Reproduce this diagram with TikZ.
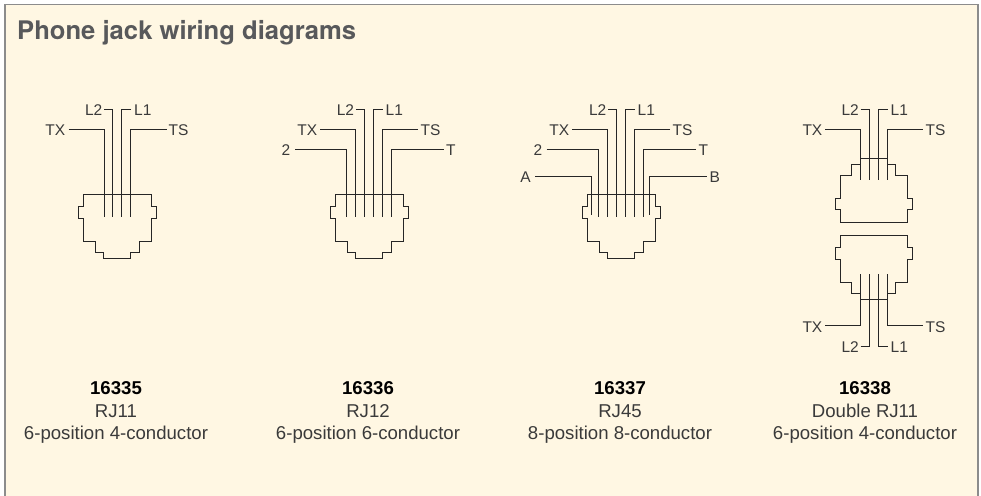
\documentclass[tikz,border=0pt]{standalone}
\usepackage{fontspec}
\setmainfont{Liberation Sans}
\newfontfamily\herosfont{TeX Gyre Heros}
\definecolor{panelbg}{HTML}{FFF7E3}
\definecolor{panelframe}{HTML}{8C8C8C}
\definecolor{titlegrey}{HTML}{58595B}
\definecolor{labelgrey}{HTML}{3A3A3A}
\tikzset{
  wire/.style={draw=black!85,line width=0.8pt,line join=miter},
  jackbody/.style={draw=black!85,line width=0.8pt,line join=miter},
  pin/.style={font=\fontsize{15.5}{18}\selectfont,text=labelgrey,inner sep=0pt},
  caption/.style={font=\fontsize{18.6}{22.5}\selectfont,text=labelgrey,align=center,inner sep=0pt,anchor=north},
}
% #1 centre x, #2 top y
\newcommand{\jackdown}[2]{%
  \draw[jackbody,shift={(#1,#2)}] (-33.7,0) -- (33.7,0) -- (33.7,12.7) -- (38.7,12.7) -- (38.7,24.3) -- (33.7,24.3) -- (33.7,47.3) -- (22,47.3) -- (22,58.3) -- (13.5,58.3) -- (13.5,64.3) -- (-13.5,64.3) -- (-13.5,58.3) -- (-22,58.3) -- (-22,47.3) -- (-33.7,47.3) -- (-33.7,24.3) -- (-38.7,24.3) -- (-38.7,12.7) -- (-33.7,12.7) -- cycle;}
% #1 centre x, #2 narrow-end y, #3 direction (1 = widens downward, -1 = widens upward)
\newcommand{\jackdouble}[3]{%
  \draw[jackbody,shift={(#1,#2)},yscale=#3] (-13.5,0) -- (13.5,0) -- (13.5,6) -- (22,6) -- (22,17) -- (33.7,17) -- (33.7,40) -- (38.7,40) -- (38.7,51.4) -- (33.7,51.4) -- (33.7,64) -- (-33.7,64) -- (-33.7,51.4) -- (-38.7,51.4) -- (-38.7,40) -- (-33.7,40) -- (-33.7,17) -- (-22,17) -- (-22,6) -- (-13.5,6) -- cycle;}
\begin{document}
\begin{tikzpicture}[x=1pt,y=-1pt]
\useasboundingbox (0,0) rectangle (981,495);
\path[fill=panelbg,draw=panelframe,line width=1.6pt] (5,4.6) rectangle (977.8,498);
\node[anchor=base west,inner sep=0pt,text=titlegrey,font=\herosfont\fontsize{25.6}{30}\selectfont\bfseries] (title) at (17,39.3) {Phone jack wiring diagrams};

% --- Jack 1: RJ11
\jackdown{117.3}{194}
\foreach \n/\x in {1/104,2/112.7,3/121.7,4/130.7}{\coordinate (a\n) at (\x,216.7);}
\node[pin,anchor=east] (aTX) at (65.5,130) {TX};
\node[pin,anchor=west] (aTS) at (168.5,130) {TS};
\node[pin,anchor=east] (aL2) at (102.5,110) {L2};
\node[pin,anchor=west] (aL1) at (134,110) {L1};
\draw[wire] (aTX.east) ++(3,-1) -| (a1);
\draw[wire] (aL2.east) ++(1.5,-1) -| (a2);
\draw[wire] (aL1.west) ++(-3,-1) -| (a3);
\draw[wire] (aTS.west) ++(-2,-1) -| (a4);

% --- Jack 2: RJ12
\jackdown{369.2}{194}
\foreach \n/\x in {1/346.7,2/355.7,3/364.7,4/373.7,5/382.7,6/391.7}{\coordinate (b\n) at (\x,216.7);}
\node[pin,anchor=east] (bTX) at (317.3,130) {TX};
\node[pin,anchor=west] (bTS) at (420.5,130) {TS};
\node[pin,anchor=east] (bL2) at (354.3,110) {L2};
\node[pin,anchor=west] (bL1) at (385.5,110) {L1};
\node[pin,anchor=east] (btwo) at (290.5,150.3) {2};
\node[pin,anchor=west] (bT) at (446,150.3) {T};
\draw[wire] (btwo.east) ++(4.5,-1) -| (b1);
\draw[wire] (bTX.east) ++(2.8,-1) -| (b2);
\draw[wire] (bL2.east) ++(1.7,-1) -| (b3);
\draw[wire] (bL1.west) ++(-3,-1) -| (b4);
\draw[wire] (bTS.west) ++(-2.5,-1) -| (b5);
\draw[wire] (bT.west) ++(-2.3,-1) -| (b6);

% --- Jack 3: RJ45
\jackdown{621.3}{194}
\foreach \n/\x in {2/598.7,3/607.7,4/616.7,5/625.7,6/634.7,7/643.7}{\coordinate (c\n) at (\x,216.7);}
\coordinate (c1) at (591.7,215);\coordinate (c8) at (649.7,215);
\node[pin,anchor=east] (cTX) at (569.3,130) {TX};
\node[pin,anchor=west] (cTS) at (672.5,130) {TS};
\node[pin,anchor=east] (cL2) at (606.5,110) {L2};
\node[pin,anchor=west] (cL1) at (637.5,110) {L1};
\node[pin,anchor=east] (ctwo) at (542.5,150.3) {2};
\node[pin,anchor=west] (cT) at (698.3,150.3) {T};
\node[pin,anchor=east] (cA) at (531,177) {A};
\node[pin,anchor=west] (cB) at (709.5,177) {B};
\draw[wire] (cA.east) ++(4,-1) -| (c1);
\draw[wire] (ctwo.east) ++(4.2,-1) -| (c2);
\draw[wire] (cTX.east) ++(3,-1) -| (c3);
\draw[wire] (cL2.east) ++(1.7,-1) -| (c4);
\draw[wire] (cL1.west) ++(-3,-1) -| (c5);
\draw[wire] (cTS.west) ++(-2.5,-1) -| (c6);
\draw[wire] (cT.west) ++(-2.6,-1) -| (c7);
\draw[wire] (cB.west) ++(-2.8,-1) -| (c8);

% --- Jack 4: double RJ11
\jackdouble{873.7}{158.3}{1}
\jackdouble{873.7}{298.9}{-1}
\foreach \n/\x in {1/860.3,2/868.9,3/877.9,4/887.3}{\coordinate (d\n) at (\x,180.3);\coordinate (e\n) at (\x,274);}
\node[pin,anchor=east] (dTX) at (822.5,130) {TX};
\node[pin,anchor=west] (dTS) at (925.5,130) {TS};
\node[pin,anchor=east] (dL2) at (859,110) {L2};
\node[pin,anchor=west] (dL1) at (890.5,110) {L1};
\draw[wire] (dTX.east) ++(2.5,-1) -| (d1);
\draw[wire] (dL2.east) ++(1.7,-1) -| (d2);
\draw[wire] (dL1.west) ++(-3,-1) -| (d3);
\draw[wire] (dTS.west) ++(-2.8,-1) -| (d4);
\node[pin,anchor=east] (eTX) at (822.5,326.7) {TX};
\node[pin,anchor=west] (eTS) at (925.5,326.7) {TS};
\node[pin,anchor=east] (eL2) at (859,347) {L2};
\node[pin,anchor=west] (eL1) at (890.5,347) {L1};
\draw[wire] (eTX.east) ++(2.5,-1) -| (e1);
\draw[wire] (eL2.east) ++(1.7,-1) -| (e2);
\draw[wire] (eL1.west) ++(-3,-1) -| (e3);
\draw[wire] (eTS.west) ++(-2.8,-1) -| (e4);

% --- Captions
\node[caption] (cap1) at (116,381.5) {\textcolor{black}{\bfseries 16335}\\RJ11\\6-position 4-conductor};
\node[caption] (cap2) at (368,381.5) {\textcolor{black}{\bfseries 16336}\\RJ12\\6-position 6-conductor};
\node[caption] (cap3) at (620,381.5) {\textcolor{black}{\bfseries 16337}\\RJ45\\8-position 8-conductor};
\node[caption] (cap4) at (865,381.5) {\textcolor{black}{\bfseries 16338}\\Double RJ11\\6-position 4-conductor};
\end{tikzpicture}
\end{document}
